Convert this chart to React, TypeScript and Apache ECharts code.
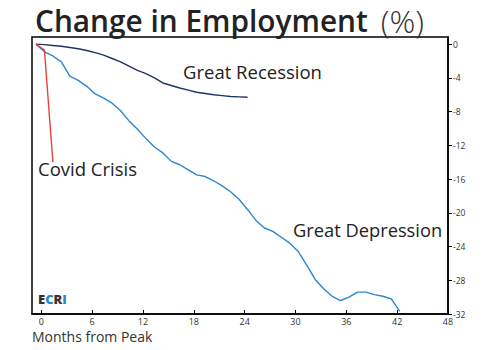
import React, { useEffect, useRef } from "react";
import * as echarts from "echarts";

const months = Array.from({ length: 44 }, (_, i) => i);
const greatDepression = [
  0, -0.9, -1.4, -2.1, -3.8, -4.3, -5.0, -5.9, -6.4, -7.0, -7.9, -9.1, -10.1, -11.2,
  -12.2, -12.9, -13.9, -14.3, -14.9, -15.5, -15.7, -16.2, -16.8, -17.5, -18.4, -19.6,
  -20.9, -21.8, -22.2, -22.9, -23.6, -24.6, -26.2, -27.9, -29.0, -29.9, -30.4, -30.0,
  -29.4, -29.4, -29.7, -29.9, -30.2, -31.7,
];
const greatRecession = [
  0, -0.05, -0.15, -0.25, -0.4, -0.55, -0.75, -1.0, -1.3, -1.7, -2.1, -2.6, -3.1, -3.5,
  -4.0, -4.6, -4.9, -5.2, -5.45, -5.7, -5.85, -6.0, -6.1, -6.2, -6.25, -6.3,
];
const covidCrisis = [0, -0.7, -14.0];
const xTicks = [0, 6, 12, 18, 24, 30, 36, 42, 48];
const yTicks = [0, -4, -8, -12, -16, -20, -24, -28, -32];

const pair = (arr: number[]) => arr.map((v, i) => [months[i], v]);

export default function App() {
  const ref = useRef<HTMLDivElement>(null);
  useEffect(() => {
    if (!ref.current) return;
    const chart = echarts.init(ref.current, null, { renderer: "svg" });
    const font = "'Open Sans', sans-serif";
    chart.setOption({
      animation: false,
      backgroundColor: "#fff",
      title: {
        text: "{a|Change in Employment}{b|(%)}",
        left: 30,
        top: -1,
        textStyle: {
          rich: {
            a: { fontFamily: font, fontSize: 29.8, fontWeight: 600, color: "#222" },
            b: { fontFamily: font, fontSize: 32, fontWeight: 300, color: "#333", padding: [0, 0, 0, 13] },
          },
        },
      },
      grid: {
        left: 32,
        right: 47,
        top: 37,
        bottom: 36,
        show: true,
        borderColor: "#000",
        borderWidth: 1.5,
        outerBoundsMode: "none",
      },
      xAxis: [
        {
          type: "value",
          position: "bottom",
          min: -1.1,
          max: 48,
          axisLine: { show: true, onZero: false, lineStyle: { color: "#000", width: 1.5 } },
          axisTick: { show: true, inside: true, length: 4, customValues: xTicks, lineStyle: { color: "#000" } },
          axisLabel: { customValues: xTicks, fontSize: 9, color: "#333", margin: 3, fontFamily: font },
          splitLine: { show: false },
        },
        {
          type: "value",
          min: -0.47,
          max: 48.7,
          show: false,
          axisLine: { onZero: false },
          splitLine: { show: false },
        },
      ],
      yAxis: {
        type: "value",
        position: "right",
        min: -32,
        max: 0.85,
        interval: 4,
        axisLine: { show: true, onZero: false, lineStyle: { color: "#000", width: 1.5 } },
        axisTick: { show: true, length: 4, customValues: yTicks, lineStyle: { color: "#000" } },
        axisLabel: { customValues: yTicks, fontSize: 8.5, color: "#333", margin: 5, fontFamily: font },
        splitLine: { show: false },
      },
      series: [
        {
          type: "line",
          name: "Great Depression",
          xAxisIndex: 1,
          data: pair(greatDepression),
          showSymbol: false,
          lineStyle: { color: "#2b86d0", width: 1.4 },
        },
        {
          type: "line",
          name: "Great Recession",
          xAxisIndex: 1,
          data: pair(greatRecession),
          showSymbol: false,
          lineStyle: { color: "#1c3468", width: 1.4 },
        },
        {
          type: "line",
          name: "Covid Crisis",
          xAxisIndex: 1,
          data: pair(covidCrisis),
          showSymbol: false,
          lineStyle: { color: "#e8403a", width: 1.4 },
        },
      ],
      graphic: [
        { type: "text", left: 183, top: 62, style: { text: "Great Recession", fontFamily: font, fontSize: 18.5, fontWeight: 500, fill: "#222" } },
        { type: "text", left: 38, top: 159, style: { text: "Covid Crisis", fontFamily: font, fontSize: 18.5, fontWeight: 500, fill: "#222" } },
        { type: "text", left: 293, top: 220, style: { text: "Great Depression", fontFamily: font, fontSize: 18.3, fontWeight: 500, fill: "#222" } },
        { type: "text", left: 32, top: 329, style: { text: "Months from Peak", fontFamily: font, fontSize: 14, fill: "#333" } },
        {
          type: "text",
          left: 38,
          top: 292,
          style: {
            text: "{d|E}{b|C}{d|R}{b|I}",
            rich: {
              d: { fontFamily: font, fontSize: 13, fontWeight: 800, fill: "#333" },
              b: { fontFamily: font, fontSize: 13, fontWeight: 800, fill: "#2b86d0" },
            },
          },
        },
      ],
    });
    return () => chart.dispose();
  }, []);
  return <div ref={ref} style={{ width: 495, height: 350, position: "absolute", left: 0, top: 0 }} />;
}
